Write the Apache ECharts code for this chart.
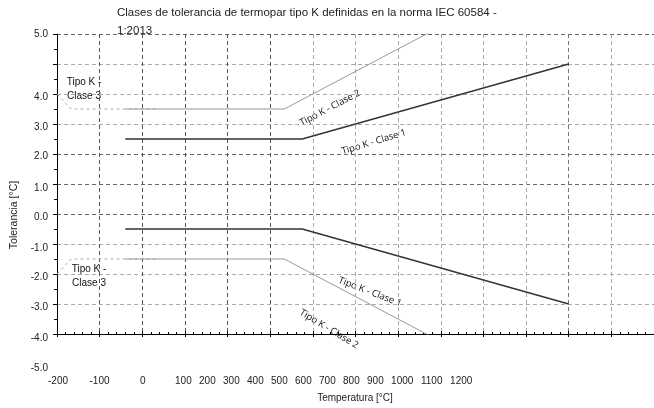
<!DOCTYPE html>
<html>
<head>
<meta charset="utf-8">
<script src="https://cdn.jsdelivr.net/npm/echarts@6/dist/echarts.min.js"></script>
<style>
html,body{margin:0;padding:0;background:#fff;}
#chart{width:654px;height:408px;}
</style>
</head>
<body>
<div id="chart"></div>
<script>
// ---- data (temperature °C, tolerance °C) ----
const class1Upper = [[-40, 1.5], [375, 1.5], [1000, 4.0]];
const class1Lower = [[-40, -1.5], [375, -1.5], [1000, -4.0]];
const class2Upper = [[-40, 2.5], [333, 2.5], [1200, 9.0]];
const class2Lower = [[-40, -2.5], [333, -2.5], [1200, -9.0]];
const class3Upper = [[-200, 3.0], [-167, 2.5], [40, 2.5]];
const class3Lower = [[-200, -3.0], [-167, -2.5], [40, -2.5]];

// tick labels (as printed in the reference)
const xTickLabels = ['-200', '-100', '0', '100', '200', '300', '400', '500', '600', '700', '800', '900', '1000', '1100', '1200'];
const yTickLabels = ['5.0', '4.0', '3.0', '2.0', '1.0', '0.0', '-1.0', '-2.0', '-3.0', '-4.0', '-5.0'];

// annotation texts
const annotationTexts = ['Tipo K - Clase 2', 'Tipo K - Clase 1', 'Tipo K - Clase 1', 'Tipo K - Clase 2', 'Tipo K -\nClase 3', 'Tipo K -\nClase 3'];

const titleText = 'Clases de tolerancia de termopar tipo K definidas en la norma IEC 60584 -\n1:2013';
const xName = 'Temperatura [°C]';
const yName = 'Tolerancia [°C]';

// ---- layout (pixel positions of printed labels) ----
const xTickLabelPos = [58, 99.5, 142.7, 183.4, 207.4, 231.4, 255.4, 279.4, 303.4, 327.4, 351.4, 375.4, 402.2, 431.7, 461.2];
const yTickLabelPos = [34, 97, 127, 156, 188, 217, 248, 277, 307, 338, 368];
const annotationLayout = [
  {x: 330, y: 108, rot: 28, font: '9.5px "Open Sans"'},
  {x: 374, y: 142, rot: 17, font: '9.5px "Open Sans"'},
  {x: 370, y: 292, rot: -21, font: '9.5px "Open Sans"'},
  {x: 329, y: 329, rot: -31, font: '9.5px "Open Sans"'},
  {x: 84, y: 89, rot: 0, font: '10px "Liberation Sans Narrow", "Liberation Sans"'},
  {x: 89, y: 276, rot: 0, font: '10px "Liberation Sans Narrow", "Liberation Sans"'}
];

const FONT = '"Liberation Sans", Arial, sans-serif';
const xGridColors = ['#888', '#555', '#555', '#555', '#555', '#555', '#aaa', '#aaa', '#aaa', '#aaa', '#aaa', '#aaa', '#777', '#aaa', '#aaa'];
const yGridColors = ['#888', '#aaa', '#aaa', '#aaa', '#666', '#666', '#666', '#aaa', '#aaa', '#aaa', '#666'];

const chart = echarts.init(document.getElementById('chart'), null, {renderer: 'canvas'});

const graphics = [];
graphics.push({type: 'text', x: 117, y: 4, style: {text: titleText, fill: '#222', font: '11.5px ' + FONT, lineHeight: 18, align: 'left', verticalAlign: 'top'}});
xTickLabels.forEach((t, i) => graphics.push({type: 'text', x: xTickLabelPos[i], y: 381, style: {text: t, fill: '#222', font: '10px ' + FONT, align: 'center', verticalAlign: 'middle'}}));
yTickLabels.forEach((t, i) => graphics.push({type: 'text', x: 48, y: yTickLabelPos[i], style: {text: t, fill: '#222', font: '10px ' + FONT, align: 'right', verticalAlign: 'middle'}}));
graphics.push({type: 'text', x: 355, y: 398, style: {text: xName, fill: '#222', font: '10px ' + FONT, align: 'center', verticalAlign: 'middle'}});
graphics.push({type: 'text', x: 14, y: 215, rotation: Math.PI / 2, style: {text: yName, fill: '#222', font: '10.5px ' + FONT, align: 'center', verticalAlign: 'middle'}});
annotationTexts.forEach((t, i) => {
  const a = annotationLayout[i];
  graphics.push({type: 'text', x: a.x, y: a.y, rotation: a.rot * Math.PI / 180, style: {text: t, fill: '#111', font: a.font, align: 'center', verticalAlign: 'middle', lineHeight: 14}});
});

function lineSeries(data, color, width, type) {
  return {type: 'line', data: data, symbol: 'none', clip: true, silent: true, animation: false,
    lineStyle: {color: color, width: width, type: type}};
}

chart.setOption({
  animation: false,
  backgroundColor: '#fff',
  grid: {left: 57, right: 0, top: 34, bottom: 74, containLabel: false},
  xAxis: [{
    type: 'value', min: -200, max: 1200, interval: 100,
    axisLabel: {show: false},
    axisLine: {onZero: false, lineStyle: {color: '#000', width: 1}},
    axisTick: {show: true, inside: true, length: 3, lineStyle: {color: '#000'}},
    minorTick: {show: true, splitNumber: 5, length: 2, lineStyle: {color: '#000'}},
    splitLine: {show: true, lineStyle: {color: xGridColors, type: [4, 3], width: 1}}
  }, {
    type: 'value', min: -200, max: 1200, interval: 100, position: 'bottom',
    axisLabel: {show: false},
    axisLine: {show: false, onZero: false},
    axisTick: {show: true, inside: false, length: 3, lineStyle: {color: '#000'}},
    splitLine: {show: false}
  }],
  yAxis: [{
    type: 'value', min: -5, max: 5, interval: 1,
    axisLabel: {show: false},
    axisLine: {show: true, onZero: false, lineStyle: {color: '#000', width: 1}},
    axisTick: {show: true, inside: false, length: 4, lineStyle: {color: '#000'}},
    minorTick: {show: true, splitNumber: 2, length: 3, lineStyle: {color: '#000'}},
    splitLine: {show: true, lineStyle: {color: yGridColors, type: [4, 3], width: 1}}
  }],
  series: [
    lineSeries(class3Upper, '#aaa', 1, [3, 3]),
    lineSeries(class3Lower, '#aaa', 1, [3, 3]),
    lineSeries(class2Upper, '#999', 1, 'solid'),
    lineSeries(class2Lower, '#999', 1, 'solid'),
    lineSeries(class1Upper, '#333', 1.3, 'solid'),
    lineSeries(class1Lower, '#333', 1.3, 'solid')
  ],
  graphic: graphics
});
</script>
</body>
</html>
